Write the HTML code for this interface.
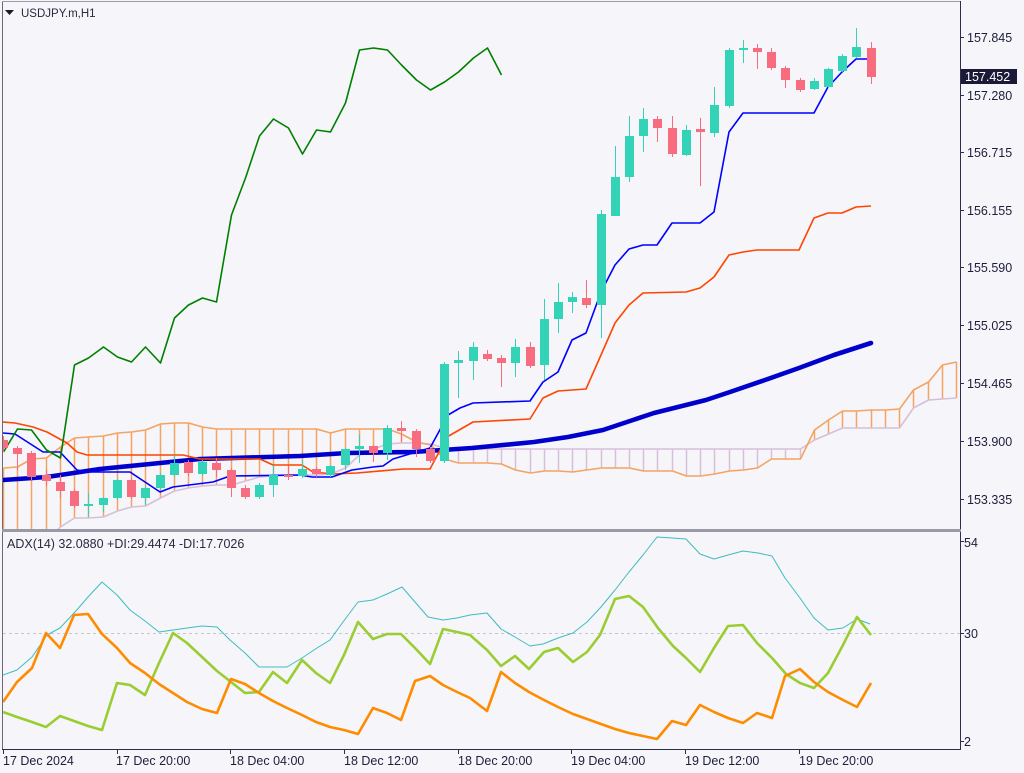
<!DOCTYPE html>
<html><head><meta charset="utf-8">
<style>
html,body{margin:0;padding:0;background:#f5f5fa;}
svg{display:block;}
text{font-family:"Liberation Sans","DejaVu Sans",sans-serif;}
</style></head>
<body>
<svg width="1024" height="773" viewBox="0 0 1024 773" xmlns="http://www.w3.org/2000/svg">
<defs>
<clipPath id="cm"><rect x="3" y="2" width="957" height="527"/></clipPath>
<clipPath id="ca"><rect x="3" y="533" width="957" height="216"/></clipPath>
</defs>
<rect x="0" y="0" width="1024" height="773" fill="#f5f5fa"/>

<g clip-path="url(#cm)" fill="none" stroke-linejoin="round">
<!-- cloud hatch sandy -->
<path stroke="#f4a460" stroke-width="1.5" d="M3.5 468V530M17.5 467V530M31.5 459V530M46.5 458V530M60.5 447V527M74.5 438V518M88.5 437V518M103.5 436V517M117.5 433V511M131.5 432V507M145.5 430V506M160.5 424V498M174.5 423V491M188.5 423V488M202.5 427V486M216.5 429V485M231.5 429V485M245.5 429V481M259.5 429V477M273.5 429V476M288.5 429V475M302.5 429V475M316.5 429V475M330.5 433V474M345.5 429V468M359.5 429V455M373.5 429V449M387.5 429V444M401.5 434V443M416.5 442V443M814.5 430V440M828.5 420V434M842.5 411V428M856.5 411V428M871.5 410V428M885.5 410V428M899.5 409V428M913.5 390V408M928.5 382V400M942.5 365V399M956.5 362V398"/>
<!-- cloud hatch thistle -->
<path stroke="#d8bfd8" stroke-width="1.5" d="M444.5 448V459M458.5 449V463M473.5 449V463M487.5 449V463M501.5 449V464M515.5 449V470M530.5 449V473M544.5 449V471M558.5 449V471M572.5 449V472M586.5 449V470M601.5 449V468M615.5 449V468M629.5 449V468M643.5 449V471M657.5 449V471M672.5 449V471M686.5 449V476M700.5 449V476M714.5 449V474M729.5 449V471M743.5 449V470M757.5 449V468M771.5 449V459M785.5 449V459M800.5 449V459"/>
<!-- senkou B -->
<polyline stroke="#d8bfd8" stroke-width="1.6" points="46.5,540 60.5,527 74.5,518 88.5,518 103.5,517 117.5,511 131.5,507 145.5,506 160.5,498 174.5,491 188.5,488 202.5,486 216.5,485 231.5,485 245.5,481 259.5,477 273.5,476 288.5,475 302.5,475 316.5,475 330.5,474 345.5,468 359.5,455 373.5,449 387.5,444 401.5,443 416.5,443 430.5,444 444.5,448 458.5,449 800.5,449 814.5,440 828.5,434 842.5,428 899.5,428 913.5,408 928.5,400 942.5,399 956.5,398"/>
<!-- senkou A -->
<polyline stroke="#f4a460" stroke-width="1.6" points="3.5,468 17.5,467 31.5,459 46.5,458 60.5,447 74.5,438 88.5,437 103.5,436 117.5,433 131.5,432 145.5,430 160.5,424 174.5,423 188.5,423 202.5,427 216.5,429 316.5,429 330.5,433 345.5,429 387.5,429 401.5,434 416.5,442 430.5,445 444.5,459 458.5,463 487.5,463 501.5,464 515.5,470 530.5,473 544.5,471 558.5,471 572.5,472 586.5,470 601.5,468 629.5,468 643.5,471 672.5,471 686.5,476 700.5,476 714.5,474 729.5,471 743.5,470 757.5,468 771.5,459 800.5,459 814.5,430 828.5,420 842.5,411 856.5,411 871.5,410 885.5,410 899.5,409 913.5,390 928.5,382 942.5,365 956.5,362"/>
<!-- MA thick -->
<polyline stroke="#0000cd" stroke-width="4.6" stroke-linecap="round" points="3,480 47,477 100,469 150,464 200,459 300,456 347,453 413,452 472,448 534,442 568,437 603,430 627,422 654,413 706,400 730,392 765,380 799,368 834,355 871,343"/>
<!-- Kijun -->
<polyline stroke="#ff4500" stroke-width="1.6" points="2,422 15,423 33,427 47,432 67,443 77,452 87,455 183,455 200,459 260,459 273,465 302,465 313,472 333,474 357,473 403,469 430,469 447,437 473,422 530,419 543,398 558,391 586,389 601,355 615,323 629,305 643,293 686,292 700,288 714,277 729,255 743,252 757,250 799,250 814,218 828,213 842,213 856,207 871,206"/>
<!-- Tenkan -->
<polyline stroke="#0000ff" stroke-width="1.6" points="3,433 15,434 43,452 60,452 77,470 87,472 130,472 160,492 173,487 213,482 230,476 300,475 312,477 332,477 352,470 373,467 383,466 393,459 413,453 430,448 448,415 460,408 473,403 530,401 543,382 558,372 572,340 586,333 601,292 615,265 629,249 643,245 657,245 672,223 700,223 714,212 729,132 743,113 814,113 828,87 842,72 856,59 871,59"/>
<!-- Chikou -->
<polyline stroke="#008000" stroke-width="1.6" points="3.5,452 17.5,429 31.5,430 46.5,450 60.5,458 74.5,365 88.5,358 103.5,347 117.5,357 131.5,362 145.5,347 160.5,363 174.5,318 188.5,305 202.5,298 216.5,302 231.5,215 245.5,178 259.5,136 273.5,119 288.5,128 302.5,154 316.5,130 330.5,132 345.5,103 359.5,50 373.5,48 387.5,50 401.5,65 416.5,80 430.5,90 444.5,82 458.5,72 473.5,58 487.5,48 501.5,75"/>

<!-- candles: wicks -->
<path stroke="#33d3b8" stroke-width="1" d="M88.5 493V517M103.5 497V512M117.5 479V500M145.5 486V505M160.5 473V490M174.5 455V477M202.5 460V476M259.5 483V499M273.5 465V497M302.5 460V478M330.5 465V477M345.5 448V470M359.5 435V463M387.5 425V460M444.5 362V463M458.5 351V398M473.5 342V380M515.5 339V377M544.5 299V380M558.5 283V333M572.5 292V313M601.5 210V338M615.5 146V216M629.5 116V182M643.5 108V152M686.5 125V156M714.5 87V137M729.5 48V108M743.5 40V63M814.5 78V90M828.5 68V88M842.5 54V72M856.5 28V58"/>
<path stroke="#f76c7f" stroke-width="1" d="M3.5 436V452M17.5 446V470M31.5 451V480M46.5 470V486M60.5 475V498M74.5 489V508M131.5 478V499M188.5 460V476M216.5 458V477M231.5 468V497M245.5 485V499M288.5 466V480M316.5 467V477M373.5 445V462M401.5 421V442M416.5 429V457M430.5 447V463M487.5 350V361M501.5 355V387M530.5 342V368M586.5 280V308M657.5 116V142M672.5 116V157M700.5 118V186M757.5 44V69M771.5 48V70M785.5 66V88M800.5 78V92M871.5 42V84"/>
<!-- candles: bodies -->
<path fill="#33d3b8" stroke="none" d="M84 504h9v2h-9zM99 498h9v7h-9zM113 480h9v18h-9zM141 488h9v10h-9zM156 475h9v13h-9zM170 463h9v12h-9zM198 462h9v12h-9zM255 485h9v12h-9zM269 475h9v10h-9zM298 469h9v7h-9zM326 466h9v9h-9zM341 449h9v16h-9zM355 446h9v3h-9zM383 428h9v25h-9zM440 364h9v97h-9zM454 360h9v3h-9zM469 347h9v14h-9zM511 347h9v16h-9zM540 319h9v46h-9zM554 302h9v17h-9zM568 297h9v5h-9zM597 214h9v91h-9zM611 177h9v39h-9zM625 136h9v41h-9zM639 119h9v17h-9zM682 130h9v25h-9zM710 105h9v28h-9zM725 50h9v56h-9zM739 48h9v2h-9zM810 81h9v8h-9zM824 69h9v18h-9zM838 56h9v15h-9zM852 47h9v10h-9z"/>
<path fill="#f76c7f" stroke="none" d="M-1 440h9v8h-9zM13 448h9v6h-9zM27 453h9v24h-9zM42 475h9v6h-9zM56 482h9v9h-9zM70 491h9v15h-9zM127 480h9v17h-9zM184 462h9v11h-9zM212 463h9v7h-9zM227 470h9v18h-9zM241 488h9v9h-9zM284 475h9v2h-9zM312 469h9v5h-9zM369 446h9v7h-9zM397 428h9v3h-9zM412 431h9v18h-9zM426 449h9v12h-9zM483 354h9v5h-9zM497 358h9v5h-9zM526 347h9v19h-9zM582 298h9v7h-9zM653 119h9v9h-9zM668 128h9v26h-9zM696 129h9v3h-9zM753 48h9v4h-9zM767 52h9v16h-9zM781 68h9v12h-9zM796 80h9v10h-9zM867 48h9v29h-9z"/>
</g>

<!-- ADX panel -->
<line x1="3" y1="633.5" x2="960" y2="633.5" stroke="#c8c8cc" stroke-width="1" stroke-dasharray="3,3"/>
<g clip-path="url(#ca)" fill="none" stroke-linejoin="round">
<polyline stroke="#3fbdbd" stroke-width="1" points="3,675 17,670 32,657 47,635 60,628 75,612 88,597 102,582 117,595 130,610 145,621 159,632 173,630 187,628 202,626 217,627 230,640 245,653 259,667 287,667 302,658 317,648 330,640 343,622 358,602 373,600 387,594 402,587 415,602 428,617 443,620 457,618 470,615 487,613 501,629 515,637 530,646 543,644 558,638 573,633 587,622 601,607 615,590 629,572 643,555 657,537 672,538 686,539 700,554 714,559 728,555 743,551 758,553 772,556 785,578 800,598 814,618 828,630 843,628 857,619 870,624"/>
<polyline stroke="#9acd32" stroke-width="2.6" points="3,712 17,717 32,722 46,727 60,716 74,721 88,726 102,730 117,683 130,685 145,695 159,663 173,633 187,643 202,657 217,671 231,682 245,693 259,692 273,672 287,683 302,660 316,673 330,683 344,655 358,622 373,639 387,634 401,634 415,648 430,664 443,629 457,632 470,635 487,650 501,666 515,656 529,669 544,652 558,648 573,662 587,652 600,635 615,599 629,596 643,607 658,628 673,646 686,658 700,672 714,648 728,626 743,625 757,643 772,658 786,674 800,683 814,688 828,673 843,645 857,617 871,635"/>
<polyline stroke="#ff8c00" stroke-width="2.6" points="3,702 17,682 32,668 46,633 60,648 74,615 88,614 102,634 117,648 130,663 145,673 159,684 173,693 187,702 202,709 217,713 231,679 245,684 259,693 273,701 287,708 302,715 316,722 330,727 344,730 358,734 373,708 387,713 401,720 415,681 430,676 443,685 457,692 470,698 487,711 501,672 515,683 529,692 544,700 558,707 573,714 587,719 601,724 615,729 629,733 643,736 657,739 672,721 686,725 700,705 714,712 728,718 743,723 757,713 772,718 785,676 800,669 814,682 828,692 843,700 857,707 871,683"/>
</g>

<!-- frames -->
<line x1="2.5" y1="1" x2="2.5" y2="749" stroke="#6a6a7a" stroke-width="1"/>
<line x1="2" y1="1.5" x2="961" y2="1.5" stroke="#9a9aa8" stroke-width="1"/>
<line x1="960.5" y1="1" x2="960.5" y2="750" stroke="#2e2e4a" stroke-width="1"/>
<rect x="2" y="529" width="959" height="3" fill="#9a9aa6"/>
<line x1="2" y1="749.5" x2="961" y2="749.5" stroke="#2e2e4a" stroke-width="1"/>

<!-- right axis ticks -->
<path stroke="#2e2e4a" stroke-width="1" d="M961 37.5h3M961 95.5h3M961 152.5h3M961 210.5h3M961 267.5h3M961 325.5h3M961 383.5h3M961 441.5h3M961 499.5h3M961 541.5h3M961 633.5h3M961 741.5h3"/>
<g font-size="12.5" fill="#1e1e3a">
<text x="967" y="42">157.845</text>
<text x="967" y="100">157.280</text>
<text x="967" y="157">156.715</text>
<text x="967" y="215">156.155</text>
<text x="967" y="272">155.590</text>
<text x="967" y="330">155.025</text>
<text x="967" y="388">154.465</text>
<text x="967" y="446">153.900</text>
<text x="967" y="504">153.335</text>
<text x="964" y="547">54</text>
<text x="964" y="638">30</text>
<text x="964" y="746">2</text>
</g>
<rect x="961" y="69" width="56" height="15" fill="#1a1a38"/>
<text x="965" y="81" font-size="12.5" fill="#ffffff">157.452</text>

<!-- time axis -->
<path stroke="#2e2e4a" stroke-width="1" d="M3.5 750v4M117.5 750v4M230.5 750v4M344.5 750v4M458.5 750v4M571.5 750v4M685.5 750v4M799.5 750v4"/>
<g font-size="12.5" fill="#1e1e3a">
<text x="3" y="765">17 Dec 2024</text>
<text x="116" y="765">17 Dec 20:00</text>
<text x="230" y="765">18 Dec 04:00</text>
<text x="344" y="765">18 Dec 12:00</text>
<text x="458" y="765">18 Dec 20:00</text>
<text x="571" y="765">19 Dec 04:00</text>
<text x="685" y="765">19 Dec 12:00</text>
<text x="799" y="765">19 Dec 20:00</text>
</g>

<!-- titles -->
<polygon points="5,10 14,10 9.5,15" fill="#1a1a2e"/>
<text x="21" y="17" font-size="11.5" fill="#2a2a40">USDJPY.m,H1</text>
<text x="7" y="548" font-size="12.5" fill="#2a2a40">ADX(14) 32.0880 +DI:29.4474 -DI:17.7026</text>
</svg>
</body></html>
